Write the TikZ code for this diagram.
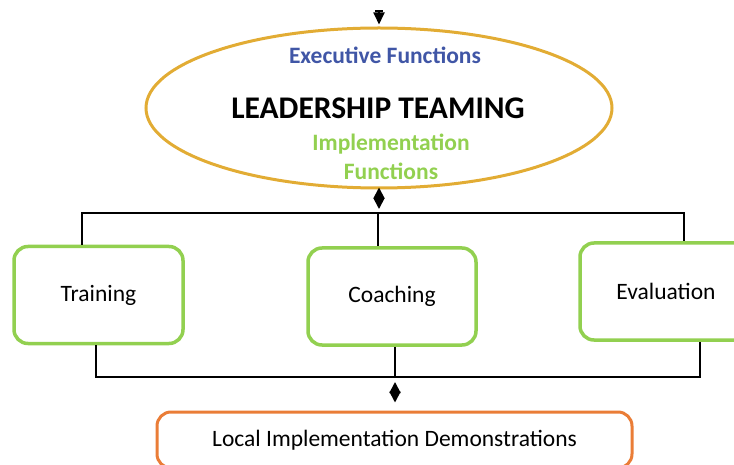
\documentclass[tikz,border=0pt]{standalone}
\usepackage{fontspec}
\setmainfont{Carlito}
\usetikzlibrary{shapes.geometric,arrows.meta}
\definecolor{leadgold}{RGB}{226,172,52}
\definecolor{boxgreen}{RGB}{146,208,80}
\definecolor{localorange}{RGB}{234,125,55}
\definecolor{execblue}{RGB}{64,86,166}

\begin{document}
\begin{tikzpicture}[x=1pt,y=-1pt,
        wire/.style={line width=1.8pt,black},
        twoway/.style={wire,{Triangle[length=11pt,width=11pt]}-{Triangle[length=11pt,width=11pt]}},
        txt/.style={font=\fontsize{23.5pt}{28pt}\selectfont,inner sep=0pt},
        gbox/.style={txt,draw=boxgreen,line width=3.5pt,rounded corners=14pt,
                minimum height=97pt}]
        \clip (0,0) rectangle (734,465);

        % leadership ellipse
        \node[ellipse,draw=leadgold,line width=3pt,minimum width=466pt,
            minimum height=160pt,inner sep=0pt] (lead) at (379,108) {};
        \node[txt,font=\fontsize{23.5pt}{28pt}\selectfont\bfseries,text=execblue]
            (exec) at (385,55) {Executive Functions};
        \node[txt,font=\fontsize{31.5pt}{36pt}\selectfont\bfseries]
            (title) at (378,108) {LEADERSHIP TEAMING};
        \node[txt,font=\fontsize{23.5pt}{29pt}\selectfont\bfseries,text=boxgreen,
            align=center] (impl) at (391,157) {Implementation\\Functions};

        % the three functions
        \node[gbox,minimum width=169pt] (train) at (98.5,295) {Training};
        \node[gbox,minimum width=168pt] (coach) at (392,296.5) {Coaching};
        \node[gbox,minimum width=172pt] (eval) at (666,291.5) {Evaluation};

        \node[txt,draw=localorange,line width=3pt,rounded corners=14pt,
            minimum width=475pt,minimum height=56pt] (local) at (394.5,440)
            {Local Implementation Demonstrations};

        % bus lines
        \coordinate (top) at (379,10);
        \coordinate (tl) at (82,213);
        \coordinate (tm) at (378,213);
        \coordinate (tr) at (684,213);
        \coordinate (bl) at (96,377);
        \coordinate (bm) at (395,377);
        \coordinate (br) at (700,377);

        \draw[wire,{Bar[width=8pt]}-{Triangle[length=12pt,width=11pt]},shorten >=2pt]
            (top) -- (lead.north);
        \draw[twoway,shorten <=-2pt,shorten >=4pt] (lead.south) -- (lead.south |- tm);
        \draw[wire] (tl |- train.north) -- (tl) -- (tr) -- (tr |- eval.north);
        \draw[wire] (tm) -- (tm |- coach.north);

        \draw[wire] (bl |- train.south) -- (bl) -- (br) -- (br |- eval.south);
        \draw[wire] (bm |- coach.south) -- (bm);
        \draw[twoway,shorten <=5pt,shorten >=8pt] (bm) -- (bm |- local.north);
\end{tikzpicture}
\end{document}
